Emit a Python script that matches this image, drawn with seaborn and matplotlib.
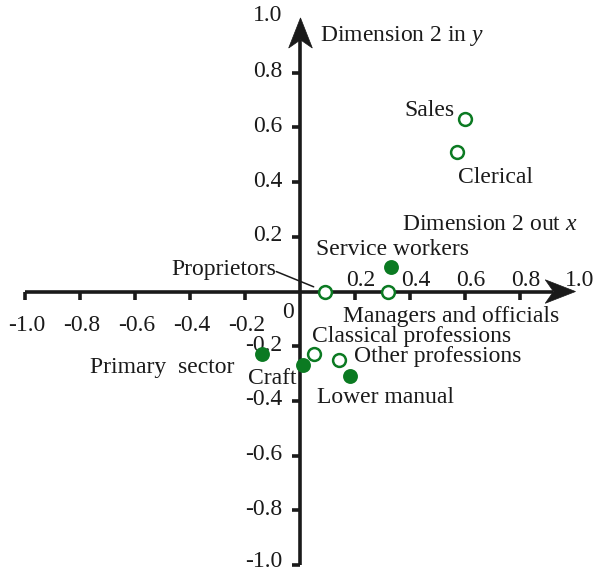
import matplotlib
matplotlib.use("Agg")
import matplotlib.pyplot as plt
from matplotlib.patches import Polygon
import numpy as np
import pandas as pd
import seaborn as sns

# Occupational groups on the two-dimensional map
groups = ["Sales", "Clerical", "Service workers", "Proprietors",
          "Managers and officials", "Classical professions",
          "Other professions", "Lower manual", "Craft", "Primary  sector"]
dim_x = [0.60, 0.57, 0.33, 0.09, 0.32, 0.05, 0.14, 0.18, 0.01, -0.14]
dim_y = [0.63, 0.51, 0.09, 0.00, 0.00, -0.23, -0.25, -0.31, -0.27, -0.23]
filled = [False, False, True, False, False, False, False, True, True, True]

x_ticks = [-1.0, -0.8, -0.6, -0.4, -0.2, 0.2, 0.4, 0.6, 0.8]
x_tick_labels = ["-1.0", "-0.8", "-0.6", "-0.4", "-0.2", "0.2", "0.4", "0.6", "0.8"]
y_ticks = [-1.0, -0.8, -0.6, -0.4, -0.2, 0.2, 0.4, 0.6, 0.8]
y_tick_labels = ["-1.0", "-0.8", "-0.6", "-0.4", "-0.2", "0.2", "0.4", "0.6", "0.8"]

df = pd.DataFrame({"group": groups, "x": dim_x, "y": dim_y, "filled": filled})

# label placement: (dx, dy) in pixels from the point, horizontal alignment
label_layout = {
    "Sales": (-10.5, 2.75, "right"),
    "Clerical": (0.75, -31.25, "left"),
    "Service workers": (-75.25, 12.25, "left"),
    "Proprietors": (-154.25, 17.0, "left"),
    "Managers and officials": (-45.5, -30.0, "left"),
    "Classical professions": (-2.25, 12.25, "left"),
    "Other professions": (15.0, -2.25, "left"),
    "Lower manual": (-33.0, -26.75, "left"),
    "Craft": (-55.25, -18.75, "left"),
    "Primary  sector": (-172.0, -18.75, "left"),
}

sns.set_theme(style="white")
plt.rcParams["font.family"] = ["Liberation Serif", "DejaVu Serif"]
plt.rcParams["mathtext.fontset"] = "custom"
plt.rcParams["mathtext.rm"] = "Liberation Serif"
plt.rcParams["mathtext.it"] = "Liberation Serif:italic"

GREEN = "#0b7a22"
INK = "#1a1a1a"
FS = 17

fig = plt.figure(figsize=(6.0, 5.75), dpi=100)
ax = fig.add_axes([0, 0, 1, 1])
ax.set_xlim(-1.0927, 1.0891)
ax.set_ylim(-1.036, 1.0655)
ax.set_facecolor("white")

# axes through the origin
for side in ("top", "right"):
    ax.spines[side].set_visible(False)
ax.spines["left"].set_position("zero")
ax.spines["bottom"].set_position("zero")
for side in ("left", "bottom"):
    ax.spines[side].set_linewidth(2.6)
    ax.spines[side].set_color(INK)
    ax.spines[side].set_bounds(-1.0, 0.92)
    ax.spines[side].set_capstyle("butt")
ax.set_xticks(x_ticks)
ax.set_yticks(y_ticks)
ax.tick_params(axis="both", direction="out", length=6, width=2.6, color=INK,
               labelbottom=False, labelleft=False, bottom=True, left=True)
ax.grid(False)

# arrowheads at the positive ends
L, W, N = 0.11, 0.043, 0.03
ax.add_patch(Polygon([(1.0, 0), (1.0 - L, W), (1.0 - L + N, 0), (1.0 - L, -W)],
                     closed=True, fc=INK, ec=INK, lw=0.5, zorder=3))
ax.add_patch(Polygon([(0, 1.0), (W, 1.0 - L), (0, 1.0 - L + N), (-W, 1.0 - L)],
                     closed=True, fc=INK, ec=INK, lw=0.5, zorder=3))

# tick labels
for v, t in zip(x_ticks, x_tick_labels):
    if v < 0:
        ax.annotate(t, (v, 0), xytext=(1.5, -39), textcoords="offset pixels",
                    ha="center", va="baseline", fontsize=FS, color=INK)
    else:
        ax.annotate(t, (v, 0), xytext=(5, 6), textcoords="offset pixels",
                    ha="center", va="baseline", fontsize=FS, color=INK)
ax.annotate("1.0", (1.0, 0), xytext=(4, 6), textcoords="offset pixels",
            ha="center", va="baseline", fontsize=FS, color=INK)
for v, t in zip(y_ticks, y_tick_labels):
    lift = 4 if v == -1.0 else 1
    ax.annotate(t, (0, v), xytext=(-18, lift), textcoords="offset pixels",
                ha="right", va="center", fontsize=FS, color=INK)
ax.annotate("1.0", (0, 1.0), xytext=(-18, 2), textcoords="offset pixels",
            ha="right", va="center", fontsize=FS, color=INK)
ax.annotate("0", (0, 0), xytext=(-12, -26), textcoords="offset pixels",
            ha="center", va="baseline", fontsize=FS, color=INK)

# axis titles
ax.annotate(r"Dimension 2 in $y$", (0, 1.0), xytext=(20, -23),
            textcoords="offset pixels", ha="left", va="baseline",
            fontsize=FS, color=INK)
ax.annotate(r"Dimension 2 out $x$", (1.0, 0), xytext=(-173, 62),
            textcoords="offset pixels", ha="left", va="baseline",
            fontsize=FS, color=INK)

# points
solid = df[df["filled"]]
hollow = df[~df["filled"]]
sns.scatterplot(data=solid, x="x", y="y", ax=ax, color=GREEN, s=115,
                linewidth=0, legend=False, zorder=4)
sns.scatterplot(data=hollow, x="x", y="y", ax=ax, color=GREEN, s=85,
                linewidth=1.8, legend=False, zorder=4)
coll = ax.collections[-1]
coll.set_facecolor("white")
coll.set_edgecolor(GREEN)
coll.set_linewidth(1.8)
ax.set_xlabel("")
ax.set_ylabel("")

# group labels
for _, row in df.iterrows():
    dx, dy, ha = label_layout[row["group"]]
    ax.annotate(row["group"], (row["x"], row["y"]), xytext=(dx, dy),
                textcoords="offset pixels", ha=ha, va="baseline",
                fontsize=FS, color=INK, zorder=5)

# leader line for Proprietors
prop = df[df["group"] == "Proprietors"].iloc[0]
ax.annotate("", (prop["x"], prop["y"]), xytext=(-49, 20),
            textcoords="offset pixels",
            arrowprops=dict(arrowstyle="-", color=INK, lw=1.1,
                            shrinkA=0, shrinkB=9))

fig.savefig("out.png", dpi=100, facecolor="white")
